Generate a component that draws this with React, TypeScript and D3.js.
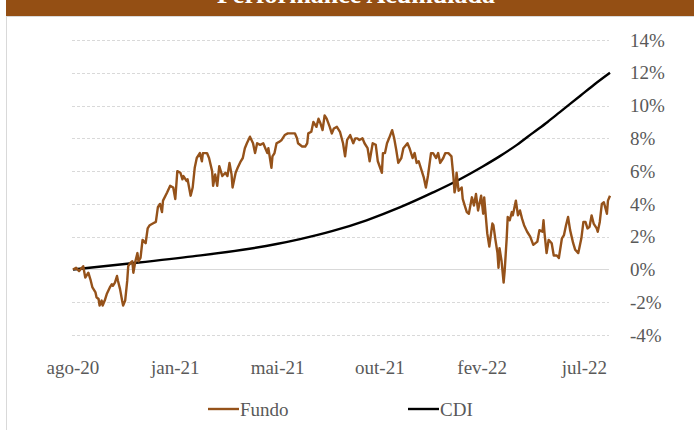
import * as d3 from 'd3'

const titulo = 'Performance Acumulada'
const xTicks = [0, 100, 200, 300, 400, 500]
const xTickLabels = ['ago-20', 'jan-21', 'mai-21', 'out-21', 'fev-22', 'jul-22']
const yTicks = [-4, -2, 0, 2, 4, 6, 8, 10, 12, 14]
const seriesNames = ['Fundo', 'CDI']
const seriesColors = ['#95521a', '#000000']

// [dia útil, retorno acumulado %]
const fundo: [number, number][] = [
  [0, 0.0], [3, 0.1], [6, -0.1], [10, 0.2], [12, -0.5], [15, -0.2], [17, -0.6], [19, -1.1], [22, -1.4], [23, -1.7],
  [25, -1.8], [26, -2.2], [28, -1.9], [29, -2.2], [31, -1.9], [33, -1.5], [36, -1.1], [38, -0.9], [39, -1.0], [41, -0.8],
  [43, -0.4], [44, -0.7], [46, -1.2], [48, -1.9], [49, -2.2], [51, -1.9], [53, -0.7], [54, 0.2], [56, 0.4], [58, 0.5],
  [59, -0.2], [61, 0.5], [63, 1.0], [64, 0.5], [66, 0.7], [68, 1.8], [71, 1.6], [73, 2.5], [75, 2.7], [78, 2.8],
  [81, 2.9], [83, 3.8], [85, 4.0], [87, 3.5], [88, 4.2], [92, 4.7], [95, 5.1], [98, 5.0], [100, 4.3], [102, 6.0],
  [105, 5.9], [107, 5.5], [108, 5.7], [111, 5.4], [112, 5.5], [115, 4.5], [117, 5.0], [119, 6.2], [121, 6.8], [124, 7.1],
  [126, 6.6], [127, 7.1], [131, 7.1], [133, 6.8], [136, 6.0], [137, 5.1], [139, 5.8], [141, 5.1], [143, 6.3], [146, 5.7],
  [149, 5.9], [151, 5.7], [153, 6.5], [155, 5.8], [156, 5.0], [159, 5.9], [161, 6.2], [164, 6.6], [166, 6.8], [168, 7.4],
  [170, 7.7], [173, 8.1], [176, 7.7], [178, 7.1], [180, 7.7], [183, 7.6], [186, 7.7], [188, 7.4], [190, 7.1], [191, 7.4],
  [194, 6.2], [195, 6.9], [197, 7.1], [199, 7.7], [202, 7.8], [204, 7.9], [207, 8.2], [210, 8.3], [214, 8.3], [217, 8.3],
  [219, 8.0], [220, 7.7], [224, 7.5], [227, 7.5], [229, 7.7], [230, 8.3], [233, 8.4], [235, 9.0], [238, 8.7], [240, 9.2],
  [242, 8.9], [244, 8.5], [246, 9.4], [248, 9.2], [251, 8.7], [253, 8.3], [255, 8.6], [258, 8.7], [261, 8.4], [264, 7.7],
  [266, 6.9], [268, 7.9], [271, 8.2], [274, 7.7], [276, 8.0], [278, 8.0], [280, 7.9], [283, 8.0], [285, 7.7], [288, 7.4],
  [290, 6.6], [293, 7.7], [296, 7.6], [298, 6.6], [302, 5.9], [303, 7.1], [305, 7.1], [307, 7.7], [309, 8.0], [312, 8.5],
  [314, 8.0], [316, 7.3], [318, 6.5], [321, 6.8], [323, 7.4], [327, 7.7], [329, 7.4], [332, 6.8], [334, 7.1], [336, 6.5],
  [338, 6.6], [341, 6.0], [343, 5.6], [345, 5.0], [347, 5.7], [350, 7.1], [352, 7.1], [355, 6.8], [357, 7.1], [359, 6.5],
  [362, 6.8], [364, 7.1], [367, 7.1], [370, 6.9], [372, 5.6], [373, 4.7], [374, 5.0], [375, 5.9], [377, 4.8], [380, 5.0],
  [381, 4.3], [383, 3.9], [385, 3.5], [387, 3.4], [390, 4.4], [392, 3.9], [394, 4.6], [396, 3.6], [399, 4.5], [401, 3.4],
  [402, 4.4], [405, 2.2], [407, 1.4], [410, 2.8], [411, 2.7], [413, 1.8], [415, 1.0], [416, 0.1], [417, 1.3], [419, 0.5],
  [421, -0.8], [422, -0.1], [424, 1.9], [425, 3.2], [427, 3.0], [429, 3.5], [430, 3.3], [433, 4.2], [435, 3.3], [437, 3.6],
  [439, 3.1], [441, 2.7], [444, 2.3], [447, 2.0], [450, 1.5], [454, 1.7], [456, 2.4], [459, 2.3], [460, 3.0], [461, 2.2],
  [463, 1.0], [465, 1.8], [468, 1.6], [470, 0.85], [473, 0.85], [475, 0.7], [478, 1.9], [480, 2.1], [482, 2.7], [484, 3.2],
  [486, 2.4], [489, 1.6], [491, 1.2], [494, 1.0], [497, 1.9], [499, 2.9], [501, 2.9], [503, 2.5], [505, 2.6], [507, 3.3],
  [509, 2.8], [512, 2.5], [513, 2.3], [515, 2.9], [517, 4.0], [519, 4.1], [522, 3.4], [523, 4.2], [525, 4.5],
]

const cdi: [number, number][] = [
  [0, 0.0], [53, 0.35], [117, 0.8], [166, 1.2], [199, 1.55], [222, 1.85], [254, 2.35], [287, 3.0], [320, 3.8],
  [352, 4.7], [375, 5.4], [401, 6.3], [417, 6.9], [434, 7.6], [450, 8.35], [464, 9.0], [476, 9.6], [496, 10.6],
  [510, 11.3], [525, 12.0],
]

const FONT = '"Liberation Serif", "DejaVu Serif", serif'
const TEXT = '#595959'

export default function App() {
  const width = 694
  const height = 430

  const x = d3.scaleLinear().domain([0, 525]).range([73, 610])
  const y = d3.scaleLinear().domain([-4, 14]).range([335, 40])

  const fundoPath = d3.line<[number, number]>()
    .x((d) => x(d[0]))
    .y((d) => y(d[1]))(fundo) ?? ''

  const cdiPath = d3.line<[number, number]>()
    .x((d) => x(d[0]))
    .y((d) => y(d[1]))
    .curve(d3.curveMonotoneX)(cdi) ?? ''

  const legendX = [208, 408]

  return (
    <div style={{ position: 'absolute', left: 0, top: 0 }}>
      <svg width={width} height={height} style={{ display: 'block', background: '#fff' }}>
        {/* title bar, title mostly cropped as in the original */}
        <rect x={6} y={0} width={688} height={16} fill="#944f14" />
        <text x={356} y={3} textAnchor="middle" fill="#fff" fontFamily={FONT} fontWeight="bold" fontSize={26}>
          {titulo}
        </text>
        <rect x={6.5} y={16.5} width={690} height={420} fill="none" stroke="#d9d9d9" />

        {/* grid */}
        {yTicks.map((t) => (
          <line
            key={t}
            x1={72} x2={609}
            y1={Math.round(y(t)) + 0.5} y2={Math.round(y(t)) + 0.5}
            stroke="#d9d9d9"
            strokeWidth={1}
            strokeDasharray={t === 0 ? undefined : '3,2'}
          />
        ))}

        {/* y labels */}
        {yTicks.map((t) => (
          <text key={t} x={630} y={y(t)} dy="0.35em" fill={TEXT} fontFamily={FONT} fontSize={19}>
            {`${t}%`}
          </text>
        ))}

        {/* x labels */}
        {xTicks.map((t, i) => (
          <text key={t} x={x(t)} y={367} dy="0.35em" textAnchor="middle" fill={TEXT} fontFamily={FONT} fontSize={19}>
            {xTickLabels[i]}
          </text>
        ))}

        <path d={cdiPath} fill="none" stroke={seriesColors[1]} strokeWidth={2.4} strokeLinejoin="round" />
        <path d={fundoPath} fill="none" stroke={seriesColors[0]} strokeWidth={2.4} strokeLinejoin="round" />

        {/* legend */}
        {seriesNames.map((name, i) => (
          <g key={name} transform={`translate(${legendX[i]},409)`}>
            <line x1={0} x2={31} y1={0} y2={0} stroke={seriesColors[i]} strokeWidth={2.4} />
            <text x={32} y={0} dy="0.35em" fill={TEXT} fontFamily={FONT} fontSize={19}>
              {name}
            </text>
          </g>
        ))}
      </svg>
    </div>
  )
}
